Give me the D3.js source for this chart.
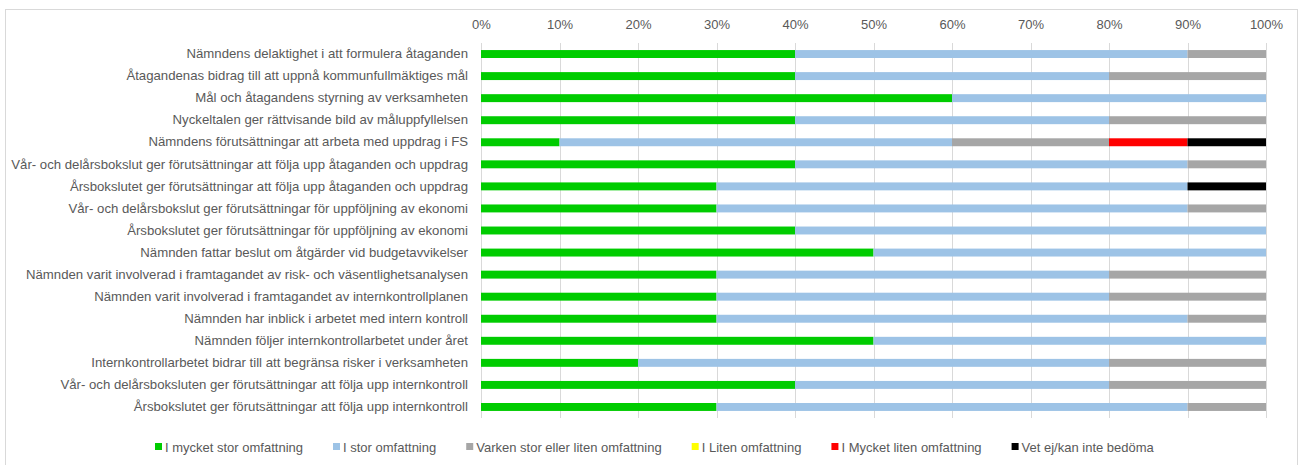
<!DOCTYPE html>
<html><head><meta charset="utf-8">
<script src="https://cdn.jsdelivr.net/npm/d3@7"></script>
<style>body{margin:0;background:#fff;font-family:"Liberation Sans",Arial,sans-serif;}</style>
</head><body><svg id="c" width="1303" height="465"></svg>
<script>
const categories = [
  "Nämndens delaktighet i att formulera åtaganden",
  "Åtagandenas bidrag till att uppnå kommunfullmäktiges mål",
  "Mål och åtagandens styrning av verksamheten",
  "Nyckeltalen ger rättvisande bild av måluppfyllelsen",
  "Nämndens förutsättningar att arbeta med uppdrag i FS",
  "Vår- och delårsbokslut ger förutsättningar att följa upp åtaganden och uppdrag",
  "Årsbokslutet ger förutsättningar att följa upp åtaganden och uppdrag",
  "Vår- och delårsbokslut ger förutsättningar för uppföljning av ekonomi",
  "Årsbokslutet ger förutsättningar för uppföljning av ekonomi",
  "Nämnden fattar beslut om åtgärder vid budgetavvikelser",
  "Nämnden varit involverad i framtagandet av risk- och väsentlighetsanalysen",
  "Nämnden varit involverad i framtagandet av internkontrollplanen",
  "Nämnden har inblick i arbetet med intern kontroll",
  "Nämnden följer internkontrollarbetet under året",
  "Internkontrollarbetet bidrar till att begränsa risker i verksamheten",
  "Vår- och delårsboksluten ger förutsättningar att följa upp internkontroll",
  "Årsbokslutet ger förutsättningar att följa upp internkontroll"
];
const seriesNames = ["I mycket stor omfattning","I stor omfattning","Varken stor eller liten omfattning","I Liten omfattning","I Mycket liten omfattning","Vet ej/kan inte bedöma"];
const mycketStor = [0.4,0.4,0.6,0.4,0.1,0.4,0.3,0.3,0.4,0.5,0.3,0.3,0.3,0.5,0.2,0.4,0.3];
const stor       = [0.5,0.4,0.4,0.4,0.5,0.5,0.6,0.6,0.6,0.5,0.5,0.5,0.6,0.5,0.6,0.4,0.6];
const varken     = [0.1,0.2,0,0.2,0.2,0.1,0,0.1,0,0,0.2,0.2,0.1,0,0.2,0.2,0.1];
const liten      = [0,0,0,0,0,0,0,0,0,0,0,0,0,0,0,0,0];
const mycketLiten= [0,0,0,0,0.1,0,0,0,0,0,0,0,0,0,0,0,0];
const vetEj      = [0,0,0,0,0.1,0,0.1,0,0,0,0,0,0,0,0,0,0];
const tickValues = [0,0.1,0.2,0.3,0.4,0.5,0.6,0.7,0.8,0.9,1];
const colors = ["#00CC00","#9DC3E6","#A6A6A6","#FFFF00","#FF0000","#000000"];
</script>
<script>
const svg = d3.select("#c");
const font = '"Liberation Sans",Arial,sans-serif';
svg.append("rect").attr("x",5.5).attr("y",9.5).attr("width",1292).attr("height",470)
  .attr("fill","#fff").attr("stroke","#D9D9D9");

const x = d3.scaleLinear().domain([0,1]).range([481,1266]);
const y = d3.scaleBand().domain(categories).range([43,418]).paddingInner(0.64).paddingOuter(0.32);

const table = categories.map((c,i)=>({cat:c, s0:mycketStor[i], s1:stor[i], s2:varken[i], s3:liten[i], s4:mycketLiten[i], s5:vetEj[i]}));
const keys = ["s0","s1","s2","s3","s4","s5"];
const stacked = d3.stack().keys(keys)(table);

// gridlines
svg.append("g").selectAll("line").data(tickValues).join("line")
  .attr("x1",d=>Math.round(x(d))+0.5).attr("x2",d=>Math.round(x(d))+0.5)
  .attr("y1",43).attr("y2",418).attr("stroke","#D9D9D9").attr("stroke-width",1);

// axis labels top
const axis = d3.axisTop(x).tickValues(tickValues).tickFormat(d3.format(".0%")).tickSize(0).tickPadding(0);
const ag = svg.append("g").attr("transform","translate(0,29)").call(axis);
ag.select(".domain").remove();
ag.selectAll("text").attr("font-family",font).attr("font-size",13).attr("fill","#595959");

// bars
svg.append("g").selectAll("g").data(stacked).join("g")
  .attr("fill",(d,i)=>colors[i])
  .selectAll("rect").data(d=>d).join("rect")
  .attr("x",d=>x(d[0])).attr("width",d=>Math.max(0,x(d[1])-x(d[0])))
  .attr("y",d=>y(d.data.cat)).attr("height",y.bandwidth());

// category labels
const yAxis = d3.axisLeft(y).tickSize(0).tickPadding(13);
const yg = svg.append("g").attr("transform","translate(481,0)").call(yAxis);
yg.select(".domain").remove();
yg.selectAll("text").attr("font-family",font).attr("font-size",13.2).attr("fill","#595959");

// legend
const lg = svg.append("g").attr("transform","translate(155,447)");
let lx = 0;
seriesNames.forEach((n,i)=>{
  const g = lg.append("g").attr("transform",`translate(${lx},0)`);
  g.append("rect").attr("x",0).attr("y",-4).attr("width",7).attr("height",7).attr("fill",colors[i]);
  const t = g.append("text").attr("x",10).attr("y",0).attr("dy","0.35em").attr("font-family",font)
    .attr("font-size",13).attr("fill","#595959").text(n);
  lx += 10 + t.node().getComputedTextLength() + 30;
});
</script>
</body></html>
